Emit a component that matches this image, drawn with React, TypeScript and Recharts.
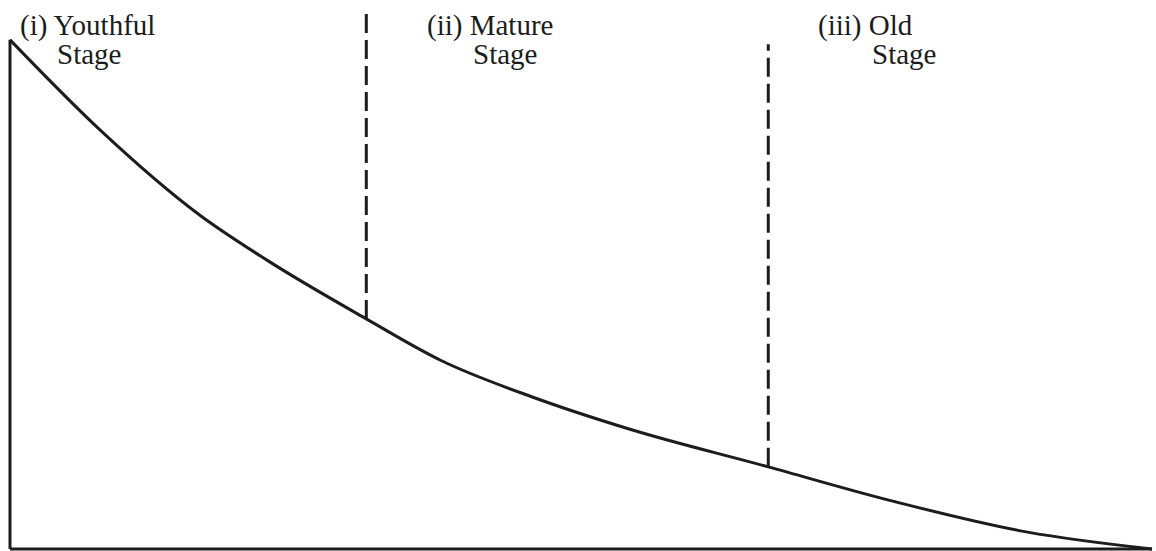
import { Customized, Line, LineChart, ReferenceLine, XAxis, YAxis } from 'recharts'

// curve: x = distance (0-100), y = height (0-100)
const distance = [0, 7.9, 16.6, 22.5, 31.2, 37.7, 45.8, 54.0, 66.4, 77.3, 89.1, 100]
const height = [93.6, 77.0, 61.4, 53.1, 42.3, 34.7, 27.9, 22.2, 15.1, 8.8, 3.1, 0]

// stage boundaries (dashed) and label text
const boundaryX = [31.2, 66.4]
const boundaryTop = [99.4, 92.8]
const boundaryBottom = [42.3, 15.1]
const stageLines = [
  ['(i) Youthful', 'Stage'],
  ['(ii) Mature', 'Stage'],
  ['(iii) Old', 'Stage'],
]

const data = distance.map((d, i) => ({ d, h: height[i] }))
const ink = '#1c1c1c'

const labelPos = [
  { x: 20, x2: 57 },
  { x: 427, x2: 473 },
  { x: 818, x2: 872 },
]

function StageLabels() {
  return (
    <g fontFamily="'Liberation Serif', 'Times New Roman', serif" fontSize={29} fill={ink}>
      {stageLines.map((lines, i) => (
        <g key={i}>
          <text x={labelPos[i].x} y={35}>{lines[0]}</text>
          <text x={labelPos[i].x2} y={64}>{lines[1]}</text>
        </g>
      ))}
    </g>
  )
}

export default function App() {
  return (
    <div style={{ position: 'absolute', left: 0, top: 0, background: '#fff' }}>
      <LineChart width={1156} height={551} data={data} margin={{ top: 5, right: 4, left: 10, bottom: 2 }}>
        <XAxis dataKey="d" type="number" domain={[0, 100]} hide />
        <YAxis type="number" domain={[0, 100]} hide />
        <ReferenceLine y={0} stroke={ink} strokeWidth={3} />
        <ReferenceLine
          segment={[{ x: 0, y: 0 }, { x: 0, y: height[0] }]}
          stroke={ink}
          strokeWidth={3}
        />
        {boundaryX.map((bx, i) => (
          <ReferenceLine
            key={bx}
            segment={[{ x: bx, y: boundaryBottom[i] }, { x: bx, y: boundaryTop[i] }]}
            stroke={ink}
            strokeWidth={3}
            strokeDasharray="19 7"
          />
        ))}
        <Line
          dataKey="h"
          type="monotone"
          stroke={ink}
          strokeWidth={3}
          dot={false}
          isAnimationActive={false}
        />
        <Customized component={StageLabels} />
      </LineChart>
    </div>
  )
}
